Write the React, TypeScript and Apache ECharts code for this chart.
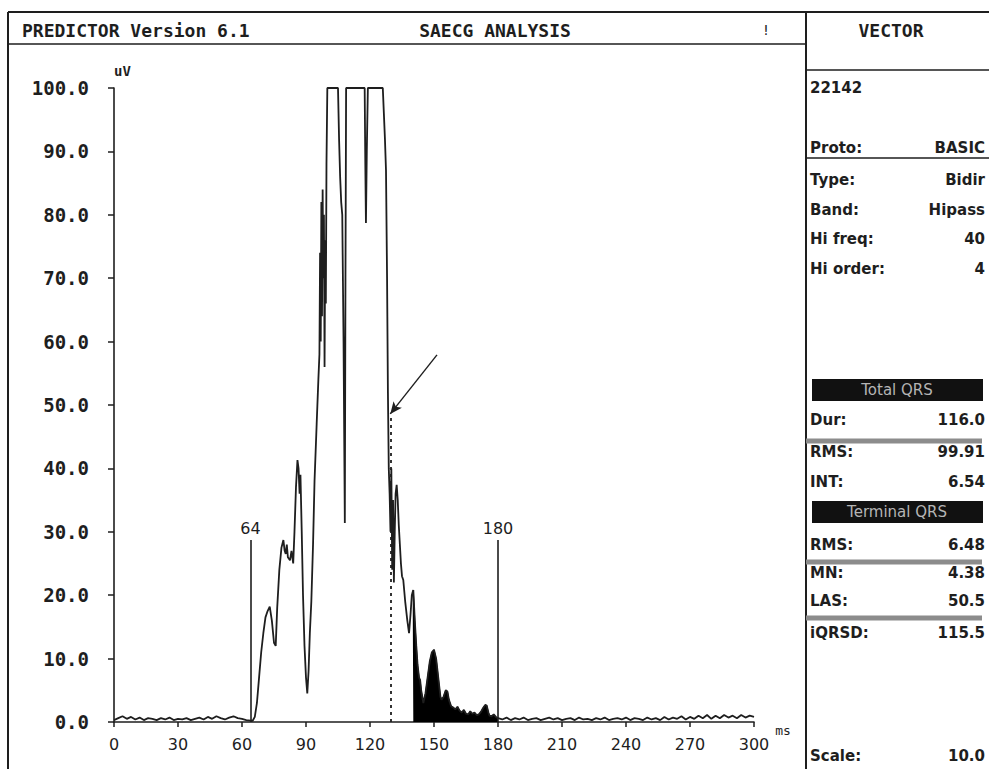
import React, { useEffect, useRef } from "react";
import * as echarts from "echarts";

// ---- data (ms, uV) ----
const baselineBefore: [number, number][] = [
  [0, 0.3], [2, 0.6], [4, 0.9], [6, 0.5], [8, 0.8], [10, 0.4], [12, 0.7], [14, 0.3], [16, 0.6],
  [18, 0.5], [20, 0.3], [22, 0.6], [24, 0.4], [26, 0.7], [28, 0.3], [30, 0.5], [32, 0.4], [34, 0.6],
  [36, 0.3], [38, 0.5], [40, 0.7], [42, 0.4], [44, 0.8], [46, 0.5], [48, 0.9], [50, 0.6], [52, 0.4],
  [54, 0.7], [56, 0.9], [58, 0.6], [60, 0.5], [62, 0.3], [64, 0.2],
];
const qrsComplex: [number, number][] = [
  [65, 0.2], [66, 0.8], [67, 3], [68, 7], [69, 11], [70, 14], [71, 16.5], [72, 17.5], [73, 18.2],
  [74, 16], [75, 12.5], [75.8, 12], [76.5, 18], [77.5, 24], [78.5, 27.5], [79.4, 28.7], [80, 27],
  [80.5, 26.5], [81, 28], [81.5, 26], [82.5, 25.5], [83.2, 27], [84, 25], [84.6, 30], [85.3, 37],
  [86, 41.3], [86.5, 40], [87, 36], [87.4, 39], [88, 30], [88.6, 20], [89.3, 12], [90, 7], [90.6, 4.5],
  [91.2, 8], [91.8, 14], [92.5, 19], [93.3, 28], [94, 38], [95, 47], [95.8, 54], [96.3, 58],
  [96.6, 74], [96.9, 60], [97.2, 82], [97.5, 64], [97.8, 84], [98.1, 70], [98.4, 80], [98.7, 56],
  [99, 76], [99.3, 66], [99.6, 88], [100, 100], [105, 100], [105.5, 92], [106, 86], [106.5, 82],
  [107, 80], [107.6, 60], [108.2, 31.4], [108.5, 70], [108.8, 100], [117.5, 100], [117.8, 88],
  [118.1, 78.7], [118.5, 90], [119, 100], [126, 100], [126.5, 96], [127, 92], [127.5, 87], [128, 70],
  [128.4, 52], [128.8, 40], [129.2, 36], [129.6, 30], [130, 40], [130.4, 24], [130.8, 35], [131.2, 22],
  [131.6, 30], [132, 36], [132.5, 37.4], [133, 35], [133.5, 31], [134, 28], [134.5, 25], [135, 23],
  [135.6, 22.4], [136.5, 19], [137.5, 16], [138.3, 14], [139, 17], [139.6, 20],
];
const terminalTail: [number, number][] = [
  [140, 20.5], [140.3, 20.8], [141, 16], [141.7, 12], [142.3, 9], [143, 7], [143.5, 6.6], [144, 5],
  [145, 3], [146, 4.5], [147, 7], [148, 9.5], [149, 11], [150, 11.4], [151, 10], [152, 7], [153, 4],
  [153.5, 3.5], [154.5, 4], [155.5, 5], [156.3, 4.8], [157, 3.5], [158, 2.5], [159, 2.3], [160, 2],
  [161, 2.4], [162, 1.8], [163, 1.5], [164, 1.9], [165, 1.3], [166, 1.2], [167, 1.7], [168, 1.3],
  [169, 1.5], [170, 1.1], [171, 1.2], [172, 1.6], [173, 2.2], [174, 2.7], [174.7, 2.6], [175.5, 1.5],
  [176, 1], [177, 0.9], [178, 1.2], [179, 0.8], [180, 0.6],
];
const baselineAfter: [number, number][] = [
  [182, 0.4], [184, 0.7], [186, 0.3], [188, 0.6], [190, 0.4], [192, 0.7], [194, 0.3], [196, 0.5],
  [198, 0.6], [200, 0.3], [202, 0.5], [204, 0.7], [206, 0.4], [208, 0.6], [210, 0.3], [212, 0.5],
  [214, 0.6], [216, 0.3], [218, 0.7], [220, 0.4], [222, 0.5], [224, 0.3], [226, 0.6], [228, 0.4],
  [230, 0.7], [232, 0.3], [234, 0.5], [236, 0.6], [238, 0.4], [240, 0.7], [242, 0.3], [244, 0.6],
  [246, 0.5], [248, 0.3], [250, 0.7], [252, 0.4], [254, 0.6], [256, 0.3], [258, 0.8], [260, 0.4],
  [262, 0.7], [264, 0.5], [266, 0.9], [268, 0.4], [270, 0.8], [272, 0.5], [274, 1.0], [276, 0.6],
  [278, 1.1], [280, 0.5], [282, 1.0], [284, 0.6], [286, 1.1], [288, 0.7], [290, 1.0], [292, 0.6],
  [294, 1.1], [296, 0.7], [298, 1.0], [300, 0.8],
];

const qrsOnset = 64;
const qrsOffset = 180;
const markerHeight = 28.7;
const lasStart = 129.5;
const lasLineTop = 48.6;
const arrowTail: [number, number] = [151.4, 57.9];

const yTicks = { min: 0, max: 100, interval: 10 };
const xTicks = { min: 0, max: 300, interval: 30 };

const headerLeft = "PREDICTOR Version 6.1";
const headerCenter = "SAECG ANALYSIS";
const panelTitle = "VECTOR";
const patientId = "22142";
const filterRows: [string, string][] = [
  ["Type:", "Bidir"],
  ["Band:", "Hipass"],
  ["Hi freq:", "40"],
  ["Hi order:", "4"],
];
const totalRows: [string, string][] = [
  ["Dur:", "116.0"],
  ["RMS:", "99.91"],
  ["INT:", "6.54"],
];
const terminalRows: [string, string][] = [
  ["RMS:", "6.48"],
  ["MN:", "4.38"],
  ["LAS:", "50.5"],
];
const qrsdRow: [string, string] = ["iQRSD:", "115.5"];
const scaleRow: [string, string] = ["Scale:", "10.0"];

const INK = "#1e1e1e";
const MONO = "'DejaVu Sans Mono', monospace";
const SANS = "'DejaVu Sans', sans-serif";

export default function App() {
  const ref = useRef<HTMLDivElement>(null);

  useEffect(() => {
    document.body.style.margin = "0";
    const chart = echarts.init(ref.current!, null, { renderer: "svg" });
    const allData = [...baselineBefore, ...qrsComplex, ...terminalTail, ...baselineAfter];

    const LX = 810;
    const RX = 985;
    const PF = `bold 15px ${SANS}`;
    const rowText = (label: string, value: string, y: number): any[] => [
      { type: "text", x: LX, y, style: { text: label, fill: INK, font: PF, textVerticalAlign: "middle" } },
      { type: "text", x: RX, y, style: { text: value, fill: INK, font: PF, textAlign: "right", textVerticalAlign: "middle" } },
    ];
    const hline = (x1: number, x2: number, y: number, w = 1.5, c = INK) => ({
      type: "line", shape: { x1, y1: y, x2, y2: y }, style: { stroke: c, lineWidth: w },
    });
    const vline = (x: number, y1: number, y2: number, w = 1.5) => ({
      type: "line", shape: { x1: x, y1, x2: x, y2 }, style: { stroke: INK, lineWidth: w },
    });
    const blackBar = (label: string, y: number): any[] => [
      { type: "rect", shape: { x: 812, y: y - 11, width: 171, height: 22 }, style: { fill: "#111" } },
      { type: "text", x: 897, y, style: { text: label, fill: "#b5b5b5", font: `15px ${SANS}`, textAlign: "center", textVerticalAlign: "middle" } },
    ];

    const graphics: any[] = [
      hline(8, 989, 12, 2),
      vline(8, 12, 769, 2),
      hline(8, 806, 44, 1.5),
      vline(806, 12, 769, 2),
      hline(806, 989, 70, 1.5),
      { type: "text", x: 22, y: 30, style: { text: headerLeft, fill: INK, font: `bold 18px ${MONO}`, textVerticalAlign: "middle" } },
      { type: "text", x: 495, y: 30, style: { text: headerCenter, fill: INK, font: `bold 18px ${MONO}`, textAlign: "center", textVerticalAlign: "middle" } },
      { type: "text", x: 766, y: 30, style: { text: "!", fill: INK, font: `14px ${MONO}`, textAlign: "center", textVerticalAlign: "middle" } },
      { type: "text", x: 891, y: 30, style: { text: panelTitle, fill: INK, font: `bold 18px ${MONO}`, textAlign: "center", textVerticalAlign: "middle" } },
      { type: "text", x: LX, y: 88, style: { text: patientId, fill: INK, font: PF, textVerticalAlign: "middle" } },
      ...rowText("Proto:", "BASIC", 148),
      hline(806, 989, 158, 1.5),
      ...filterRows.flatMap((r, i) => rowText(r[0], r[1], 180 + i * 29.7)),
      ...blackBar("Total QRS", 390),
      ...rowText(totalRows[0][0], totalRows[0][1], 420),
      hline(806, 982, 441, 5, "#8c8c8c"),
      ...rowText(totalRows[1][0], totalRows[1][1], 452),
      ...rowText(totalRows[2][0], totalRows[2][1], 482),
      ...blackBar("Terminal QRS", 512),
      ...rowText(terminalRows[0][0], terminalRows[0][1], 545),
      hline(806, 982, 562, 5, "#8c8c8c"),
      ...rowText(terminalRows[1][0], terminalRows[1][1], 573),
      ...rowText(terminalRows[2][0], terminalRows[2][1], 601),
      hline(806, 982, 618, 5, "#8c8c8c"),
      ...rowText(qrsdRow[0], qrsdRow[1], 633),
      ...rowText(scaleRow[0], scaleRow[1], 756),
    ];

    const markLabel = { show: true, position: "end", color: INK, fontFamily: SANS, fontSize: 16, distance: 4 };

    chart.setOption({
      animation: false,
      backgroundColor: "#fff",
      grid: { left: 114, right: 235, top: 88, bottom: 47, containLabel: false },
      xAxis: {
        type: "value",
        ...xTicks,
        name: "ms",
        nameGap: 9,
        nameTextStyle: { color: INK, fontFamily: MONO, fontSize: 13, verticalAlign: "top", padding: [2, 0, 0, 0] },
        axisLine: { lineStyle: { color: INK, width: 1.6 } },
        axisTick: { length: 5, lineStyle: { color: INK, width: 1.5 } },
        axisLabel: { color: INK, fontFamily: SANS, fontSize: 16, margin: 14, formatter: (v: number) => String(v) },
        splitLine: { show: false },
      },
      yAxis: {
        type: "value",
        ...yTicks,
        name: "uV",
        nameGap: 10,
        nameTextStyle: { color: INK, fontFamily: MONO, fontSize: 14, align: "left", fontWeight: "bold" },
        axisLine: { show: true, lineStyle: { color: INK, width: 1.6 } },
        axisTick: { show: true, length: 6, lineStyle: { color: INK, width: 1.5 } },
        axisLabel: { color: INK, fontFamily: MONO, fontSize: 19, fontWeight: "bold", margin: 25, formatter: (v: number) => v.toFixed(1) },
        splitLine: { show: false },
      },
      series: [
        {
          type: "line",
          data: allData,
          symbol: "none",
          lineStyle: { color: INK, width: 1.8 },
          z: 3,
          markLine: {
            silent: true,
            symbol: ["none", "none"],
            lineStyle: { color: INK, width: 1.6, type: "solid" },
            data: [
              [
                { coord: [qrsOnset, 0] },
                { coord: [qrsOnset, markerHeight], label: { ...markLabel, formatter: String(qrsOnset) } },
              ],
              [
                { coord: [qrsOffset, 0] },
                { coord: [qrsOffset, markerHeight], label: { ...markLabel, formatter: String(qrsOffset) } },
              ],
              [
                { coord: [lasStart, 0], lineStyle: { type: [3, 4], width: 1.8, color: INK } },
                { coord: [lasStart, lasLineTop], label: { show: false } },
              ],
            ],
          },
        },
        {
          type: "line",
          data: terminalTail,
          symbol: "none",
          lineStyle: { color: "#000", width: 1 },
          areaStyle: { color: "#000", opacity: 1 },
          z: 2,
          markLine: {
            silent: true,
            symbol: ["none", "arrow"],
            symbolSize: [8, 12],
            lineStyle: { color: INK, width: 1.4, type: "solid" },
            label: { show: false },
            data: [[{ coord: arrowTail }, { coord: [lasStart, lasLineTop] }]],
          },
        },
      ],
      graphic: graphics,
    });
    return () => chart.dispose();
  }, []);

  return <div ref={ref} style={{ width: 989, height: 769 }} />;
}
